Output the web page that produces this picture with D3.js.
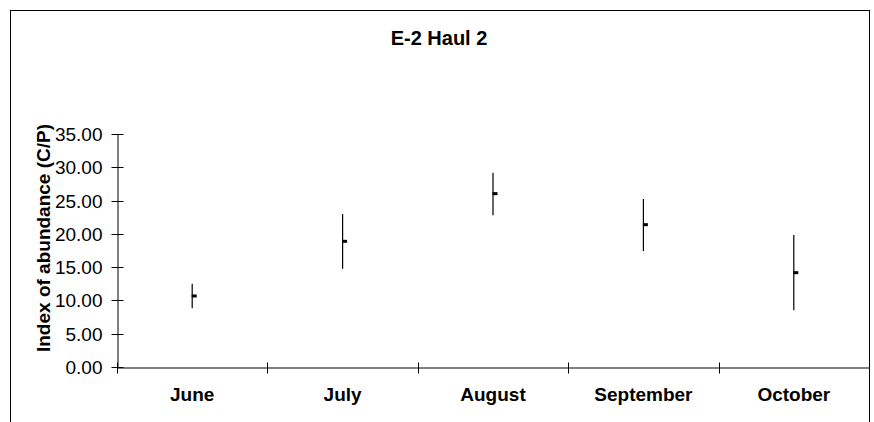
<!DOCTYPE html>
<html>
<head>
<meta charset="utf-8">
<script src="https://cdn.jsdelivr.net/npm/d3@7"></script>
<style>
  body { margin: 0; background: #fff; }
  svg { display: block; font-family: Arial, "Liberation Sans", sans-serif; }
</style>
</head>
<body>
<div id="chart"></div>
<script>
// data
var months = ["June", "July", "August", "September", "October"];
var means = [10.67, 18.88, 26.04, 21.38, 14.17];
var highs = [12.51, 22.98, 29.19, 25.24, 19.83];
var lows = [8.82, 14.77, 22.78, 17.43, 8.51];
var yTicks = [0, 5, 10, 15, 20, 25, 30, 35];

var svgWidth = 874;
var svgHeight = 422;

var margin = { top: 134, right: 5, bottom: 55, left: 117 };
var chartWidth = 869 - margin.left;
var chartHeight = 367 - margin.top;

var svg = d3.select("#chart")
  .append("svg")
  .attr("width", svgWidth)
  .attr("height", svgHeight);

// outer frame (bottom runs off the picture)
svg.append("rect")
  .attr("x", 10.5)
  .attr("y", 10.5)
  .attr("width", 859)
  .attr("height", 440)
  .attr("fill", "none")
  .attr("stroke", "#000")
  .attr("stroke-width", 1);

svg.append("text")
  .attr("x", 439)
  .attr("y", 45)
  .attr("text-anchor", "middle")
  .attr("font-size", "20px")
  .attr("font-weight", "bold")
  .text("E-2 Haul 2");

var chartGroup = svg.append("g")
  .attr("transform", `translate(${margin.left}, ${margin.top})`);

var xScale = d3.scaleBand()
  .domain(months)
  .range([0, chartWidth]);

var yScale = d3.scaleLinear()
  .domain([0, 35])
  .range([chartHeight, 0]);

// y axis
var leftAxis = d3.axisLeft(yScale)
  .tickValues(yTicks)
  .tickFormat(d3.format(".2f"))
  .tickSizeInner(6)
  .tickSizeOuter(0)
  .tickPadding(9);

var yAxisG = chartGroup.append("g")
  .attr("transform", "translate(0.5,0)")
  .call(leftAxis);
yAxisG.selectAll(".tick line").attr("x2", 6).attr("x1", -6);
yAxisG.selectAll(".tick text")
  .attr("font-size", "19px")
  .attr("font-family", "Arial, 'Liberation Sans', sans-serif")
  .attr("fill", "#000");
yAxisG.selectAll(".tick").attr("transform", d => `translate(0,${Math.round(yScale(d)) + 0.5})`);

// x axis
var bottomAxis = d3.axisBottom(xScale)
  .tickSize(0)
  .tickPadding(20);

var xAxisG = chartGroup.append("g")
  .attr("transform", `translate(0,${chartHeight + 0.5})`)
  .call(bottomAxis);
xAxisG.selectAll(".tick text")
  .attr("font-size", "19px")
  .attr("font-weight", "bold")
  .attr("font-family", "Arial, 'Liberation Sans', sans-serif")
  .attr("fill", "#000");

// category dividers on the x axis
xAxisG.selectAll(".divider")
  .data(months.concat(["end"]))
  .enter()
  .append("line")
  .attr("class", "divider")
  .attr("x1", (d, i) => Math.round(i * xScale.step()) + 0.5)
  .attr("x2", (d, i) => Math.round(i * xScale.step()) + 0.5)
  .attr("y1", -5)
  .attr("y2", 6)
  .attr("stroke", "#000");

// high-low lines
chartGroup.selectAll(".range")
  .data(months)
  .enter()
  .append("line")
  .attr("class", "range")
  .attr("x1", d => xScale(d) + xScale.bandwidth() / 2)
  .attr("x2", d => xScale(d) + xScale.bandwidth() / 2)
  .attr("y1", (d, i) => yScale(highs[i]))
  .attr("y2", (d, i) => yScale(lows[i]))
  .attr("stroke", "#000")
  .attr("stroke-width", 1.2);

// mean markers
chartGroup.selectAll(".mean")
  .data(months)
  .enter()
  .append("rect")
  .attr("class", "mean")
  .attr("x", d => xScale(d) + xScale.bandwidth() / 2 - 0.5)
  .attr("y", (d, i) => yScale(means[i]) - 1.5)
  .attr("width", 5)
  .attr("height", 3)
  .attr("fill", "#000");

// y axis title
svg.append("text")
  .attr("transform", "translate(50, 238) rotate(-90)")
  .attr("text-anchor", "middle")
  .attr("font-size", "19px")
  .attr("font-weight", "bold")
  .text("Index of abundance (C/P)");
</script>
</body>
</html>
